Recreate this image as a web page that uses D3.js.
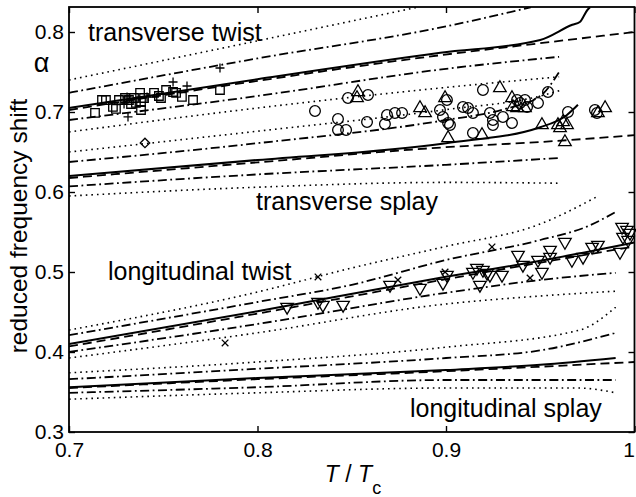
<!DOCTYPE html>
<html><head><meta charset="utf-8">
<script src="https://cdn.jsdelivr.net/npm/d3@7"></script>
<style>
  body { margin: 0; background: #fff; }
  text { font-family: "Liberation Sans", Arial, Helvetica, sans-serif; fill: #000; }
</style>
</head><body>
<svg id="chart" width="636" height="497"></svg>
<script>
// ---- axis ticks ----
const xTicks = [0.7, 0.8, 0.9, 1];
const yTicks = [0.3, 0.4, 0.5, 0.6, 0.7, 0.8];
const xTickLabels = ["0.7", "0.8", "0.9", "1"];
const yTickLabels = ["0.3", "0.4", "0.5", "0.6", "0.7", "0.8"];

// ---- theory curves, [T/Tc, reduced shift] ----
// transverse twist
const ttSolid   = [[0.7,0.705],[0.8,0.741],[0.897,0.774],[0.95,0.79],[0.967,0.809],[0.971,0.8125],[0.975,0.8275],[0.9764,0.831]];
const ttDashed  = [[0.7,0.7025],[0.796,0.7375],[0.897,0.771],[0.95,0.786],[1.0,0.80]];
const ttDashDotHi = [[0.7,0.724],[0.8,0.767],[0.9,0.807],[0.945,0.831]];
const ttDashDotLo = [[0.7,0.69],[0.8,0.72],[0.9,0.754],[0.96,0.769]];
const ttDotHi   = [[0.7,0.74],[0.8,0.789],[0.885,0.831]];
const ttDotLo   = [[0.7,0.675],[0.8,0.705],[0.897,0.73],[0.96,0.744]];
// transverse splay
const tsSolid   = [[0.7,0.62],[0.8,0.64],[0.9,0.661],[0.95,0.681],[0.964,0.696],[0.97,0.709]];
const tsDashed  = [[0.7,0.6175],[0.8,0.637],[0.9,0.656],[0.95,0.6625],[1.0,0.671]];
const tsDashDotHi = [[0.7,0.6375],[0.8,0.661],[0.9,0.69],[0.93,0.703],[0.95,0.72],[0.96,0.75]];
const tsDashDotLo = [[0.7,0.607],[0.8,0.622],[0.9,0.634],[0.96,0.6425]];
const tsDotHi   = [[0.7,0.65],[0.8,0.676],[0.9,0.703],[0.95,0.72],[0.962,0.728]];
const tsDotLo   = [[0.7,0.595],[0.8,0.606],[0.9,0.612],[0.96,0.611]];
// longitudinal twist
const ltSolid   = [[0.7,0.41],[0.8,0.451],[0.9,0.494],[0.95,0.514],[1.0,0.537]];
const ltDashed  = [[0.7,0.407],[0.8,0.448],[0.9,0.491],[1.0,0.532]];
const ltDashDotHi = [[0.7,0.421],[0.8,0.4625],[0.85,0.484],[0.9,0.515],[0.95,0.54],[0.975,0.557],[0.99,0.575]];
const ltDashDotLo = [[0.7,0.40],[0.8,0.435],[0.9,0.474],[0.95,0.49],[0.99,0.499]];
const ltDotHi   = [[0.7,0.4275],[0.8,0.475],[0.85,0.505],[0.9,0.532],[0.95,0.56],[0.98,0.594]];
const ltDotLo   = [[0.7,0.3925],[0.8,0.424],[0.9,0.46],[0.95,0.47],[0.99,0.476]];
// longitudinal splay
const lsSolid   = [[0.7,0.356],[0.8,0.3675],[0.9,0.3775],[0.95,0.384],[0.99,0.3925]];
const lsDashed  = [[0.7,0.355],[0.8,0.366],[0.9,0.376],[1.0,0.3875]];
const lsDashDotHi = [[0.7,0.366],[0.8,0.379],[0.9,0.3925],[0.95,0.402],[0.99,0.424]];
const lsDashDotLo = [[0.7,0.349],[0.8,0.356],[0.9,0.365],[0.99,0.365]];
const lsDotHi   = [[0.7,0.374],[0.8,0.3875],[0.9,0.406],[0.971,0.4275],[0.99,0.456]];
const lsDotLo   = [[0.7,0.341],[0.8,0.349],[0.9,0.355],[0.97,0.355],[0.99,0.349]];

// ---- measurements, [T/Tc, reduced shift] ----
const squares = [[0.7138,0.6988],[0.7175,0.715],[0.7196,0.715],[0.7233,0.7063],[0.7249,0.7038],[0.7265,0.715],
  [0.7297,0.7175],[0.7318,0.715],[0.7329,0.71],[0.7345,0.7175],[0.7355,0.7113],[0.7377,0.7238],[0.7382,0.7125],
  [0.7382,0.7025],[0.7398,0.7175],[0.7451,0.7238],[0.7477,0.72],[0.7488,0.7175],[0.7515,0.7275],[0.7552,0.725],
  [0.7568,0.7238],[0.7599,0.7188],[0.7658,0.715],[0.7801,0.7275]];
const pluses = [[0.7313,0.6938],[0.7308,0.7188],[0.7292,0.71],[0.7414,0.7188],[0.7552,0.7375],[0.7626,0.7325],[0.7801,0.755]];
const diamonds = [[0.7403,0.6613]];
const circles = [[0.8305,0.7013],[0.848,0.7175],[0.8586,0.7213],[0.8427,0.6913],[0.8427,0.6775],[0.847,0.6775],
  [0.8581,0.6875],[0.8687,0.6963],[0.8676,0.685],[0.8729,0.6988],[0.8767,0.6988],[0.8968,0.7025],[0.8984,0.6938],
  [0.9011,0.6863],[0.9005,0.715],[0.9196,0.7275],[0.9021,0.6838],[0.909,0.7063],[0.9117,0.705],[0.9143,0.6988],
  [0.9233,0.6988],[0.9249,0.69],[0.9249,0.6838],[0.9302,0.6938],[0.935,0.6863],[0.9377,0.715],[0.9393,0.7113],
  [0.9419,0.715],[0.943,0.7063],[0.9488,0.7113],[0.9541,0.725],[0.9647,0.70],[0.9143,0.6738],[0.979,0.7025],[0.9801,0.6988]];
const trianglesUp = [[0.8533,0.725],[0.8528,0.7175],[0.8862,0.705],[0.8889,0.6988],[0.8995,0.7175],[0.9011,0.6675],
  [0.9286,0.73],[0.935,0.7175],[0.9355,0.7063],[0.9377,0.705],[0.9419,0.705],[0.9191,0.6713],[0.9509,0.6838],
  [0.9594,0.6838],[0.9605,0.68],[0.9621,0.6875],[0.9642,0.6838],[0.9631,0.6625],[0.9806,0.6988],[0.9844,0.705]];
const trianglesDown = [[0.8984,0.4863],[0.9005,0.4963],[0.9143,0.50],[0.9164,0.505],[0.918,0.4838],[0.9196,0.5025],
  [0.9218,0.4988],[0.9233,0.4963],[0.9297,0.4963],[0.9382,0.5213],[0.9408,0.5088],[0.9488,0.515],[0.9509,0.50],
  [0.9552,0.5275],[0.9552,0.5188],[0.9631,0.5375],[0.9668,0.515],[0.9727,0.5188],[0.9775,0.5313],[0.9806,0.5338],
  [0.9923,0.525],[0.9934,0.5563],[0.9939,0.5438],[0.996,0.5525],[0.9966,0.54],[0.9976,0.5488],[0.8703,0.4838],
  [0.8862,0.48],[0.8157,0.4563],[0.8321,0.4625],[0.8347,0.4588],[0.8454,0.4588]];
const crosses = [[0.8321,0.4938],[0.8745,0.49],[0.8995,0.50],[0.9244,0.5313],[0.9446,0.4925],[0.7828,0.4113]];

// ---- layout ----
const svg = d3.select("#chart");
const plotL = 69, plotR = 634.5, plotT = 7, plotB = 432;
const x = d3.scaleLinear().domain([0.7, 1]).range([plotL, plotR]);
const y = d3.scaleLinear().domain([0.3, 0.83125]).range([plotB, plotT]);

svg.append("defs").append("clipPath").attr("id", "plotClip")
  .append("rect").attr("x", plotL).attr("y", plotT).attr("width", plotR - plotL).attr("height", plotB - plotT);

const styles = {
  solid:   { dash: null,            width: 2.0 },
  dashed:  { dash: "9,5",           width: 1.8 },
  dashdot: { dash: "9,3.5,1.8,3.5", width: 1.8 },
  dotted:  { dash: "1.6,4",         width: 1.6 }
};
const curves = [
  [ttDotHi,"dotted"],[ttDotLo,"dotted"],[ttDashDotHi,"dashdot"],[ttDashDotLo,"dashdot"],[ttDashed,"dashed"],[ttSolid,"solid"],
  [tsDotHi,"dotted"],[tsDotLo,"dotted"],[tsDashDotHi,"dashdot"],[tsDashDotLo,"dashdot"],[tsDashed,"dashed"],[tsSolid,"solid"],
  [ltDotHi,"dotted"],[ltDotLo,"dotted"],[ltDashDotHi,"dashdot"],[ltDashDotLo,"dashdot"],[ltDashed,"dashed"],[ltSolid,"solid"],
  [lsDotHi,"dotted"],[lsDotLo,"dotted"],[lsDashDotHi,"dashdot"],[lsDashDotLo,"dashdot"],[lsDashed,"dashed"],[lsSolid,"solid"]
];
const line = d3.line().x(d => x(d[0])).y(d => y(d[1])).curve(d3.curveMonotoneX);
const gLines = svg.append("g").attr("clip-path", "url(#plotClip)");
curves.forEach(([pts, kind]) => {
  gLines.append("path").attr("d", line(pts))
    .attr("fill", "none").attr("stroke", "#000")
    .attr("stroke-width", styles[kind].width)
    .attr("stroke-dasharray", styles[kind].dash);
});

// ---- markers ----
const gPts = svg.append("g").attr("fill", "none").attr("stroke", "#000").attr("stroke-width", 1.3);
const sym = (type, size) => d3.symbol().type(type).size(size)();
function plotMarks(data, pathD, rot) {
  gPts.selectAll(null).data(data).join("path")
    .attr("d", pathD)
    .attr("transform", d => `translate(${x(d[0])},${y(d[1])})${rot ? " rotate(" + rot + ")" : ""}`);
}
plotMarks(squares, sym(d3.symbolSquare, 72));
plotMarks(circles, sym(d3.symbolCircle, 90));
plotMarks(trianglesUp, sym(d3.symbolTriangle, 68));
plotMarks(trianglesDown, sym(d3.symbolTriangle, 68), 180);
plotMarks(diamonds, sym(d3.symbolSquare, 45), 45);
plotMarks(pluses, "M-4.5,0H4.5M0,-4.5V4.5");
plotMarks(crosses, "M-3.3,-3.3L3.3,3.3M-3.3,3.3L3.3,-3.3");

// ---- axes box and ticks ----
const gAx = svg.append("g");
gAx.append("rect").attr("x", plotL).attr("y", plotT).attr("width", plotR - plotL).attr("height", plotB - plotT)
  .attr("fill", "none").attr("stroke", "#000").attr("stroke-width", 1.8);
const tickLen = 6;
const xAxisB = d3.axisBottom(x).tickValues(xTicks).tickSize(-tickLen).tickFormat((d, i) => xTickLabels[i]).tickPadding(10);
const xAxisT = d3.axisTop(x).tickValues(xTicks).tickSize(-tickLen).tickFormat("");
const yAxisL = d3.axisLeft(y).tickValues(yTicks).tickSize(-tickLen).tickFormat((d, i) => yTickLabels[i]).tickPadding(5);
const yAxisR = d3.axisRight(y).tickValues(yTicks).tickSize(-tickLen).tickFormat("");
[[xAxisB, `translate(0,${plotB})`], [xAxisT, `translate(0,${plotT})`],
 [yAxisL, `translate(${plotL},0)`], [yAxisR, `translate(${plotR},0)`]].forEach(([ax, tr]) => {
  const g = gAx.append("g").attr("transform", tr).call(ax);
  g.select(".domain").remove();
  g.selectAll(".tick line").attr("stroke", "#000").attr("stroke-width", 1.4);
  g.selectAll(".tick text").attr("font-size", 21).attr("font-family", "Liberation Sans, Arial, sans-serif").attr("fill", "#000");
});
// the "1" at the right end sits against the edge of the page
gAx.selectAll(".tick text").filter(function () { return this.textContent === "1"; })
  .attr("text-anchor", "end").attr("dx", 0);

// ---- labels ----
const labels = [
  ["transverse twist", 88, 41],
  ["transverse splay", 256, 210],
  ["longitudinal twist", 108, 280],
  ["longitudinal splay", 410, 417]
];
labels.forEach(([t, lx, ly]) => {
  svg.append("text").attr("x", lx).attr("y", ly).attr("font-size", 25).text(t);
});
svg.append("text").attr("x", 41.5).attr("y", 72).attr("text-anchor", "middle").attr("font-size", 27).text("α");
svg.append("text").attr("transform", "translate(27,226) rotate(-90)").attr("text-anchor", "middle")
  .attr("font-size", 24.5).text("reduced frequency shift");
const xl = svg.append("text").attr("x", 353).attr("y", 482).attr("text-anchor", "middle").attr("font-size", 23);
xl.append("tspan").attr("font-style", "italic").text("T");
xl.append("tspan").text(" / ");
xl.append("tspan").attr("font-style", "italic").text("T");
xl.append("tspan").attr("font-size", 18).attr("dy", 12).text("c");
</script>
</body></html>
